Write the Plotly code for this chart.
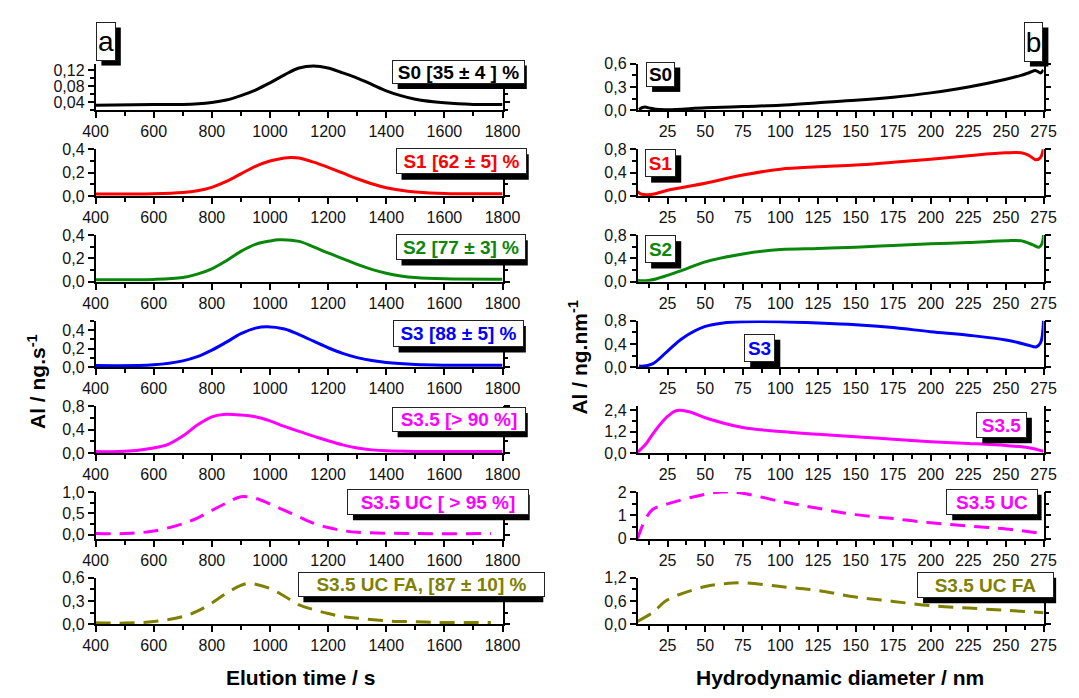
import plotly.graph_objects as go

W, H = 1079, 698
FONT = "Liberation Sans, Arial, sans-serif"

# ---------------- data: panel (a) elution time / s ----------------
t_S0 = [400, 600, 700, 800, 850, 900, 950, 1000, 1050, 1100, 1150, 1200, 1250, 1300, 1350, 1400, 1450, 1500, 1600, 1700, 1800]
ai_S0 = [0.032, 0.034, 0.034, 0.039, 0.045, 0.056, 0.07, 0.088, 0.108, 0.125, 0.130, 0.125, 0.113, 0.100, 0.084, 0.068, 0.056, 0.047, 0.038, 0.034, 0.034]

t_S1 = [400, 600, 700, 750, 800, 850, 900, 950, 1000, 1050, 1070, 1100, 1150, 1200, 1250, 1300, 1350, 1400, 1450, 1500, 1600, 1800]
ai_S1 = [0.017, 0.02, 0.03, 0.045, 0.075, 0.125, 0.19, 0.255, 0.30, 0.325, 0.33, 0.325, 0.29, 0.246, 0.198, 0.148, 0.106, 0.072, 0.05, 0.036, 0.022, 0.02]

t_S2 = [400, 600, 700, 750, 800, 850, 900, 950, 1000, 1030, 1100, 1150, 1200, 1250, 1300, 1350, 1400, 1450, 1500, 1600, 1800]
ai_S2 = [0.017, 0.02, 0.036, 0.065, 0.11, 0.18, 0.26, 0.32, 0.348, 0.358, 0.345, 0.298, 0.246, 0.198, 0.148, 0.106, 0.073, 0.05, 0.036, 0.025, 0.022]

t_S3 = [400, 600, 700, 750, 800, 850, 900, 950, 990, 1050, 1100, 1150, 1200, 1250, 1300, 1350, 1400, 1500, 1600, 1800]
ai_S3 = [0.02, 0.028, 0.07, 0.115, 0.185, 0.27, 0.36, 0.42, 0.435, 0.41, 0.35, 0.28, 0.21, 0.15, 0.105, 0.073, 0.052, 0.031, 0.024, 0.024]

t_S35 = [400, 500, 600, 650, 700, 750, 800, 840, 900, 950, 1000, 1050, 1100, 1150, 1200, 1250, 1300, 1350, 1400, 1500, 1800]
ai_S35 = [0.027, 0.03, 0.088, 0.15, 0.29, 0.48, 0.62, 0.66, 0.65, 0.62, 0.55, 0.455, 0.37, 0.29, 0.21, 0.14, 0.088, 0.055, 0.038, 0.027, 0.027]

t_UC = [400, 500, 600, 700, 750, 800, 850, 900, 950, 1000, 1050, 1100, 1150, 1200, 1250, 1300, 1400, 1500, 1760]
ai_UC = [0.03, 0.03, 0.09, 0.26, 0.39, 0.57, 0.74, 0.89, 0.85, 0.72, 0.57, 0.42, 0.27, 0.17, 0.1, 0.06, 0.04, 0.03, 0.03]

t_FA = [400, 500, 600, 700, 750, 800, 850, 900, 930, 1000, 1050, 1100, 1150, 1200, 1250, 1300, 1400, 1500, 1600, 1760]
ai_FA = [0.02, 0.017, 0.037, 0.1, 0.17, 0.275, 0.4, 0.5, 0.525, 0.46, 0.36, 0.25, 0.19, 0.14, 0.1, 0.08, 0.046, 0.033, 0.025, 0.025]

# ---------------- data: panel (b) hydrodynamic diameter / nm ----------------
d_S0 = [6, 8, 10, 13, 17, 25, 50, 75, 100, 125, 150, 175, 200, 225, 250, 260, 265, 270, 273, 275]
b_S0 = [0.01, 0.035, 0.045, 0.03, 0.015, 0.01, 0.033, 0.05, 0.067, 0.1, 0.13, 0.17, 0.225, 0.3, 0.4, 0.45, 0.48, 0.51, 0.48, 0.52]

d_S1 = [5, 7, 11, 15, 25, 50, 75, 100, 125, 150, 175, 200, 225, 250, 260, 265, 270, 273, 275]
b_S1 = [0.08, 0.04, 0.025, 0.03, 0.1, 0.22, 0.36, 0.46, 0.5, 0.53, 0.58, 0.63, 0.69, 0.74, 0.74, 0.7, 0.62, 0.66, 0.83]

d_S2 = [5, 12, 25, 35, 50, 75, 100, 125, 150, 175, 200, 225, 250, 260, 268, 272, 274, 275]
b_S2 = [0.02, 0.02, 0.11, 0.2, 0.34, 0.475, 0.55, 0.57, 0.59, 0.62, 0.65, 0.67, 0.7, 0.7, 0.63, 0.59, 0.65, 0.8]

d_S3 = [6, 8, 15, 25, 35, 50, 62, 75, 100, 125, 150, 175, 200, 225, 250, 265, 270, 273, 275]
b_S3 = [0.03, 0.02, 0.06, 0.28, 0.5, 0.7, 0.76, 0.78, 0.78, 0.76, 0.73, 0.68, 0.61, 0.55, 0.47, 0.38, 0.35, 0.42, 0.8]

d_S35 = [5, 10, 15, 20, 25, 30, 33, 40, 50, 75, 100, 125, 150, 175, 200, 225, 250, 265, 275]
b_S35 = [0.05, 0.45, 1.05, 1.6, 2.05, 2.35, 2.4, 2.3, 1.98, 1.43, 1.21, 1.05, 0.92, 0.78, 0.64, 0.54, 0.42, 0.3, 0.1]

d_UC = [5, 10, 15, 25, 50, 62, 75, 100, 125, 150, 175, 200, 225, 250, 275]
b_UC = [0.0, 0.8, 1.25, 1.49, 1.9, 2.0, 1.94, 1.6, 1.3, 1.03, 0.86, 0.68, 0.54, 0.42, 0.21]

d_FA = [5, 15, 25, 50, 62, 75, 100, 125, 150, 175, 200, 225, 250, 275]
b_FA = [0.08, 0.3, 0.63, 0.97, 1.04, 1.07, 0.97, 0.87, 0.7, 0.59, 0.48, 0.42, 0.36, 0.3]

left_labels = ["S0 [35 ± 4 ] %", "S1 [62 ± 5] %", "S2 [77 ± 3] %", "S3 [88 ± 5] %",
               "S3.5 [> 90 %]", "S3.5 UC [ > 95 %]", "S3.5 UC FA, [87 ± 10] %"]
right_labels = ["S0", "S1", "S2", "S3", "S3.5", "S3.5 UC", "S3.5 UC FA"]

colors = ["#000000", "#FF0000", "#0A870A", "#0000FF", "#FF00FF", "#FF00FF", "#808000"]
dashed = [False, False, False, False, False, True, True]

left_series = [(t_S0, ai_S0), (t_S1, ai_S1), (t_S2, ai_S2), (t_S3, ai_S3),
               (t_S35, ai_S35), (t_UC, ai_UC), (t_FA, ai_FA)]
right_series = [(d_S0, b_S0), (d_S1, b_S1), (d_S2, b_S2), (d_S3, b_S3),
                (d_S35, b_S35), (d_UC, b_UC), (d_FA, b_FA)]

# ---------------- geometry / axis styles ----------------
row_top = [57 + 87.8 * i for i in range(7)]
PH = 48
LX = (85, 504)
RX = (643, 1061)

left_y = [
    dict(range=[0.019, 0.136], dtick=0.04, minor=0.02, fmt=".2f"),
    dict(range=[0, 0.4], dtick=0.2, minor=0.1, fmt=".1f"),
    dict(range=[0, 0.4], dtick=0.2, minor=0.1, fmt=".1f"),
    dict(range=[0, 0.5], dtick=0.2, minor=0.1, fmt=".1f"),
    dict(range=[0, 0.8], dtick=0.4, minor=0.2, fmt=".1f"),
    dict(range=[-0.09, 1.0], dtick=0.5, minor=0.25, fmt=".1f"),
    dict(range=[0, 0.6], dtick=0.3, minor=0.15, fmt=".1f"),
]
right_y = [
    dict(range=[0, 0.6], dtick=0.3, minor=0.15, fmt=".1f"),
    dict(range=[0, 0.8], dtick=0.4, minor=0.2, fmt=".1f"),
    dict(range=[0, 0.8], dtick=0.4, minor=0.2, fmt=".1f"),
    dict(range=[0, 0.8], dtick=0.4, minor=0.2, fmt=".1f"),
    dict(range=[0, 2.62], dtick=1.2, minor=0.6, fmt=".1f"),
    dict(range=[0, 2.0], dtick=1, minor=0.5, fmt="d"),
    dict(range=[0, 1.2], dtick=0.6, minor=0.3, fmt=".1f"),
]

fig = go.Figure()
layout = dict(
    width=W, height=H, margin=dict(l=0, r=0, t=0, b=0),
    paper_bgcolor="white", plot_bgcolor="white", showlegend=False,
    separators=",.", font=dict(family=FONT, size=16, color="#111111"),
)

tickfont = dict(family=FONT, size=16, color="#111111")


def px2x(p):
    return p / W


def px2y(p):
    return 1 - p / H


annotations = []
shapes = []


def box(text, color, rect, size=19, bold=True, shadow=6):
    x0, x1, y0, y1 = rect
    # shadow rectangle
    shapes.append(dict(type="rect", xref="paper", yref="paper", layer="above",
                       x0=px2x(x0 + shadow), x1=px2x(x1 + shadow),
                       y0=px2y(y1 + shadow), y1=px2y(y0 + shadow),
                       fillcolor="black", line=dict(width=0)))
    bw, pad = 1, 0
    txt = "<b>%s</b>" % text if bold else text
    annotations.append(dict(xref="paper", yref="paper", x=px2x(x0), y=px2y(y0),
                            xanchor="left", yanchor="top", showarrow=False,
                            width=x1 - x0 - 2 * (bw + pad), height=y1 - y0 - 2 * (bw + pad),
                            align="center", valign="middle", borderpad=pad, borderwidth=bw,
                            text=txt, font=dict(family=FONT, size=size, color=color),
                            bgcolor="white", bordercolor="#222222"))


for i in range(7):
    for c in range(2):
        n = 2 * i + c + 1
        xs = "xaxis" if n == 1 else "xaxis%d" % n
        ys = "yaxis" if n == 1 else "yaxis%d" % n
        xr = "x" if n == 1 else "x%d" % n
        yr = "y" if n == 1 else "y%d" % n
        xpx = LX if c == 0 else RX
        top = row_top[i]
        layout[xs] = dict(
            domain=[px2x(xpx[0]), px2x(xpx[1])], anchor=yr,
            range=[400, 1800] if c == 0 else [5, 275],
            tick0=0, dtick=200 if c == 0 else 25,
            ticks="outside", ticklen=6, tickwidth=1.5, tickcolor="black",
            minor=dict(dtick=100 if c == 0 else 12.5, ticks="outside", ticklen=4,
                       tickwidth=1.5, tickcolor="black"),
            showline=True, linecolor="black", linewidth=1.5, mirror=False,
            showgrid=False, zeroline=False, tickfont=tickfont,
        )
        ya = (left_y if c == 0 else right_y)[i]
        layout[ys] = dict(
            domain=[px2y(top + PH), px2y(top)], anchor=xr,
            range=ya["range"], tick0=0, dtick=ya["dtick"], tickformat=ya["fmt"],
            ticks="outside", ticklen=6, tickwidth=1.5, tickcolor="black",
            minor=dict(dtick=ya["minor"], ticks="outside", ticklen=4,
                       tickwidth=1.5, tickcolor="black"),
            showline=True, linecolor="black", linewidth=1.5, mirror="ticks",
            showgrid=False, zeroline=False, tickfont=tickfont,
        )
        xd, yd = (left_series if c == 0 else right_series)[i]
        fig.add_trace(go.Scatter(
            x=xd, y=yd, mode="lines", xaxis=xr, yaxis=yr,
            line=dict(color=colors[i], width=3, shape="spline", smoothing=1.0,
                      dash="15px,9px" if dashed[i] else "solid"),
            hoverinfo="skip", cliponaxis=True,
        ))

# label boxes (pixel rectangles)
left_rects = [(390, 523, 53, 77), (394, 525, 144, 170), (394, 524, 232, 258),
              (391, 522, 320, 347), (390, 524, 409, 434), (344, 526, 493, 519),
              (293, 540, 578, 603)]
right_rects = [(652, 681, 55, 80), (651, 682, 145, 173), (651, 682, 233, 261),
               (753, 784, 334, 362), (992, 1043, 414, 440), (961, 1053, 493, 519),
               (931, 1068, 578, 604)]
for i in range(7):
    box(left_labels[i], colors[i], left_rects[i])
    box(right_labels[i], colors[i], right_rects[i])

box("a", "black", (85, 105, 14, 53), size=28, bold=False)
box("b", "black", (1041, 1060, 14, 54), size=28, bold=False)

# axis titles
annotations.append(dict(xref="paper", yref="paper", x=px2x(24), y=px2y(383),
                        text="<b>Al / ng.s<sup>-1</sup></b>", textangle=-90,
                        showarrow=False, xanchor="center", yanchor="middle",
                        font=dict(family=FONT, size=21, color="black")))
annotations.append(dict(xref="paper", yref="paper", x=px2x(582), y=px2y(358),
                        text="<b>Al / ng.nm<sup>-1</sup></b>", textangle=-90,
                        showarrow=False, xanchor="center", yanchor="middle",
                        font=dict(family=FONT, size=21, color="black")))
annotations.append(dict(xref="paper", yref="paper", x=px2x(296), y=px2y(686),
                        text="<b>Elution time / s</b>",
                        showarrow=False, xanchor="center", yanchor="middle",
                        font=dict(family=FONT, size=21, color="black")))
annotations.append(dict(xref="paper", yref="paper", x=px2x(851), y=px2y(686),
                        text="<b>Hydrodynamic diameter / nm</b>",
                        showarrow=False, xanchor="center", yanchor="middle",
                        font=dict(family=FONT, size=21, color="black")))

layout["annotations"] = annotations
layout["shapes"] = shapes
fig.update_layout(**layout)
fig.write_html("out.html", config={"displayModeBar": False},
               post_script="document.body.style.margin='0';")
